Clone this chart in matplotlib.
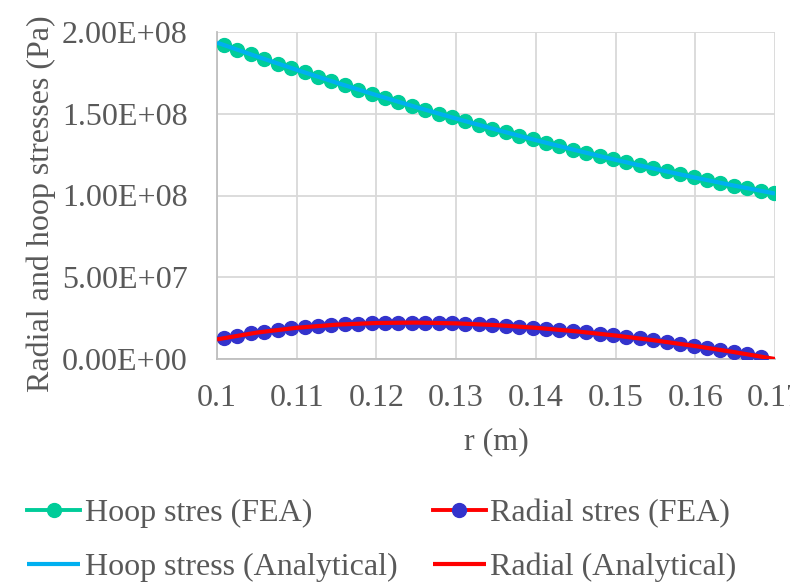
import matplotlib
matplotlib.use("Agg")
import matplotlib.pyplot as plt
from matplotlib.ticker import FuncFormatter

plt.rcParams['font.family'] = ['Liberation Serif', 'DejaVu Serif']

# ---- data ----
r_fea_hoop = [0.10088, 0.10256, 0.10425, 0.10593, 0.10761, 0.10930, 0.11098, 0.11266,
              0.11434, 0.11603, 0.11771, 0.11939, 0.12108, 0.12276, 0.12444, 0.12613,
              0.12781, 0.12949, 0.13117, 0.13286, 0.13454, 0.13622, 0.13791, 0.13959,
              0.14127, 0.14296, 0.14464, 0.14632, 0.14800, 0.14969, 0.15137, 0.15305,
              0.15474, 0.15642, 0.15810, 0.15979, 0.16147, 0.16315, 0.16483, 0.16652,
              0.16820, 0.16988]
hoop_fea = [1.9199e8, 1.8913e8, 1.8630e8, 1.8350e8, 1.8073e8, 1.7800e8, 1.7530e8, 1.7263e8,
            1.6999e8, 1.6739e8, 1.6482e8, 1.6228e8, 1.5978e8, 1.5730e8, 1.5486e8, 1.5246e8,
            1.5008e8, 1.4774e8, 1.4543e8, 1.4315e8, 1.4091e8, 1.3870e8, 1.3652e8, 1.3437e8,
            1.3226e8, 1.3017e8, 1.2813e8, 1.2611e8, 1.2413e8, 1.2218e8, 1.2026e8, 1.1837e8,
            1.1652e8, 1.1470e8, 1.1291e8, 1.1115e8, 1.0943e8, 1.0774e8, 1.0608e8, 1.0446e8,
            1.0287e8, 1.0131e8]

r_fea_radial = r_fea_hoop[:41]
radial_fea = [1.282e7, 1.429e7, 1.561e7, 1.679e7, 1.783e7, 1.876e7, 1.956e7, 2.023e7,
              2.082e7, 2.129e7, 2.167e7, 2.195e7, 2.214e7, 2.224e7, 2.227e7, 2.221e7,
              2.208e7, 2.187e7, 2.159e7, 2.125e7, 2.084e7, 2.037e7, 1.983e7, 1.924e7,
              1.859e7, 1.788e7, 1.712e7, 1.631e7, 1.544e7, 1.453e7, 1.356e7, 1.256e7,
              1.149e7, 1.040e7, 0.925e7, 0.806e7, 0.684e7, 0.556e7, 0.426e7, 0.290e7,
              0.152e7]

r_analytical = [0.100, 0.105, 0.110, 0.115, 0.120, 0.125, 0.130, 0.135,
                0.140, 0.145, 0.150, 0.155, 0.160, 0.165, 0.170]
hoop_analytical = [1.9350e8, 1.8504e8, 1.7686e8, 1.6897e8, 1.6137e8, 1.5406e8, 1.4704e8,
                   1.4030e8, 1.3385e8, 1.2769e8, 1.2182e8, 1.1623e8, 1.1093e8, 1.0592e8,
                   1.0120e8]
radial_analytical = [1.200e7, 1.616e7, 1.910e7, 2.101e7, 2.203e7, 2.226e7, 2.180e7,
                     2.072e7, 1.908e7, 1.695e7, 1.435e7, 1.133e7, 0.791e7, 0.412e7,
                     0.000e7]

x_ticks = [0.10, 0.11, 0.12, 0.13, 0.14, 0.15, 0.16, 0.17]
x_tick_labels = ['0.1', '0.11', '0.12', '0.13', '0.14', '0.15', '0.16', '0.17']
y_ticks = [0, 5e7, 1e8, 1.5e8, 2e8]

labels = ['Hoop stres (FEA)', 'Hoop stress (Analytical)',
          'Radial stres (FEA)', 'Radial (Analytical)']

# ---- styling ----
GREEN = '#00CC99'
LBLUE = '#00B0F0'
PURPLE = '#3333CC'
RED = '#FF0000'
TXT = '#595959'
GRID = '#D9D9D9'
FS = 23

fig = plt.figure(figsize=(7.9, 5.83), dpi=100)
ax = fig.add_axes([217/790, 1-359/583, (775-217)/790, (359-32)/583])

h1, = ax.plot(r_fea_hoop, hoop_fea, color=GREEN, lw=2.8, marker='o', ms=10,
              markerfacecolor=GREEN, markeredgecolor=GREEN, zorder=3)
h3, = ax.plot(r_fea_radial, radial_fea, color=RED, lw=2.8, marker='o', ms=10,
              markerfacecolor=PURPLE, markeredgecolor=PURPLE, zorder=3)
h2, = ax.plot(r_analytical, hoop_analytical, color=LBLUE, lw=3.0, zorder=4,
              solid_capstyle='butt')
h4, = ax.plot(r_analytical, radial_analytical, color=RED, lw=3.0, zorder=4,
              solid_capstyle='butt')

ax.set_xlim(0.1, 0.17)
ax.set_ylim(0, 2e8)
ax.set_xticks(x_ticks)
ax.set_xticklabels(x_tick_labels)
ax.set_yticks(y_ticks)
ax.yaxis.set_major_formatter(FuncFormatter(lambda v, p: ('%.2E' % v)))
ax.grid(True, color=GRID, lw=1.3)
ax.set_axisbelow(True)
for s in ['top', 'right']:
    ax.spines[s].set_visible(False)
for s in ['left', 'bottom']:
    ax.spines[s].set_color('#BFBFBF')
    ax.spines[s].set_linewidth(1.3)
ax.tick_params(axis='both', length=0, labelsize=FS, colors=TXT)
ax.tick_params(axis='y', pad=21)
ax.tick_params(axis='x', pad=18)
for lab in ax.get_xticklabels():
    lab.set_clip_on(False)

ax.set_xlabel('r (m)', fontsize=FS, color=TXT, labelpad=10)
ax.set_ylabel('Radial and hoop stresses (Pa)', fontsize=FS, color=TXT)
ax.yaxis.set_label_coords((56 - 217) / 558, (359 - 204) / 327)

leg = fig.legend([h1, h2, h3, h4], labels, ncol=2, loc='upper left',
                 bbox_to_anchor=(27/790, 1-499/583), frameon=False,
                 fontsize=FS, labelcolor=TXT, handlelength=1.66,
                 handletextpad=0.15, columnspacing=1.1, labelspacing=0.76,
                 borderaxespad=0, borderpad=0)

fig.savefig('out.png', dpi=100)
